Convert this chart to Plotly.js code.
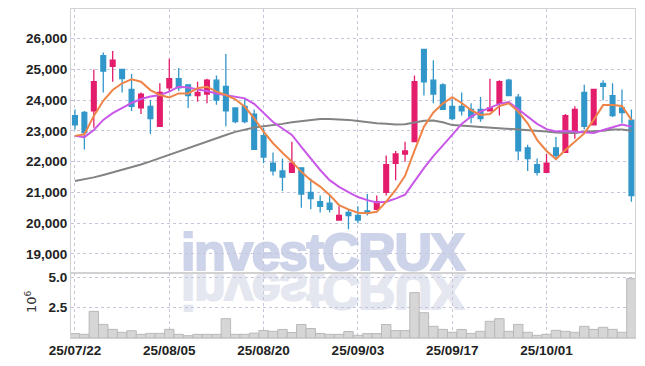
<!DOCTYPE html>
<html><head><meta charset="utf-8">
<script src="https://cdn.plot.ly/plotly-3.0.1.min.js"></script>
<style>
html,body{margin:0;padding:0;background:#fff;}
#wrap{position:relative;width:645px;height:366px;overflow:hidden;}
.wm{position:absolute;left:181px;top:226px;z-index:0;font-family:'Liberation Sans',Arial,sans-serif;font-weight:700;
 font-size:52px;line-height:52px;letter-spacing:-1.5px;white-space:nowrap;}
#wm1{color:#cdd3e8;-webkit-text-stroke:2px #cdd3e8;}
#wm2{color:#e5e7f0;-webkit-text-stroke:2px #e5e7f0;transform:scaleY(-1);transform-origin:0 45.5px;}
#chart{position:absolute;left:0;top:0;width:645px;height:366px;z-index:1;}
</style></head><body>
<div id="wrap">
<div class="wm" id="wm1">investCRUX</div>
<div class="wm" id="wm2">investCRUX</div>
<div id="chart"></div>
</div>
<script>
const dates = ['25/07/22','25/07/23','25/07/24','25/07/25','25/07/28','25/07/29','25/07/30','25/07/31',
 '25/08/01','25/08/04','25/08/05','25/08/06','25/08/07','25/08/08','25/08/11','25/08/12','25/08/13','25/08/14',
 '25/08/18','25/08/19','25/08/20','25/08/21','25/08/22','25/08/25','25/08/26','25/08/27','25/08/28','25/08/29',
 '25/09/01','25/09/02','25/09/03','25/09/04','25/09/05','25/09/08','25/09/09','25/09/10','25/09/11','25/09/12',
 '25/09/15','25/09/16','25/09/17','25/09/18','25/09/19','25/09/22','25/09/23','25/09/24','25/09/25','25/09/26',
 '25/09/29','25/09/30','25/10/01','25/10/02','25/10/10','25/10/13','25/10/14','25/10/15','25/10/16','25/10/17',
 '25/10/20','25/10/21'];
const openP  = [23500,23600,23650,25450,25100,25000,24350,23750,23800,23150,24400,24700,24500,24150,24200,24650,24450,23750,23800,23550,
 22850,21950,21700,21650,21800,21000,20700,20650,20100,20350,20250,20400,20450,21000,21950,22250,22650,25650,24650,24500,
 23800,23800,23700,23700,23650,23900,24650,24100,22450,21900,21650,22450,22300,22950,24250,23200,24550,24150,23750,23350];
const highP  = [23700,23650,25000,25550,25600,25000,24850,24250,24000,24550,25350,25050,24500,24600,24700,24800,25500,23750,24050,23700,
 23100,22300,22100,22650,21800,21450,20900,20900,20550,20450,20550,20950,20900,22200,22350,22650,24800,25650,25300,24550,
 24050,24250,23900,24100,24700,24650,24700,24200,22550,22100,22250,22800,23550,23800,24500,24350,24650,24550,24350,23700];
const lowP   = [23050,22400,23100,24250,24600,24250,23650,23550,22900,23150,24300,24300,23750,23950,23900,23850,23150,23250,23250,22400,
 21950,21550,21050,21650,20500,20450,20350,20350,20100,19800,20000,20250,20450,20900,21400,22000,22650,24150,23900,23700,
 23350,23500,23250,23300,23650,23500,24150,22050,21700,21550,21650,22050,22300,22750,23050,23200,24000,23450,23250,20700];
const closeP = [23200,22950,24600,24950,25300,24700,23800,24200,23400,24250,24700,24400,24150,24250,24650,24000,23650,23300,23300,22400,
 22150,21700,21500,21950,20950,20800,20550,20450,20250,20250,20100,20350,20700,21900,22250,22350,24600,24600,24200,23700,
 23400,23650,23450,23400,23750,24600,24150,22350,22100,21650,21950,22200,23500,23700,23150,24350,24450,23500,23600,20900];
const ma5  = [22840,22890,23490,23980,24330,24550,24680,24600,24330,24170,24090,24220,24220,24390,24440,24280,24170,24030,23790,23410,
 22980,22600,22290,22000,21670,21400,21190,20920,20590,20450,20340,20320,20370,20700,21080,21540,22360,23140,23600,23890,
 24100,23910,23680,23520,23550,23810,23900,23630,23250,22710,22350,22080,22380,22650,22920,23360,23840,23840,23810,23360];
const ma10 = [22840,22800,23030,23360,23580,23750,23910,24040,24120,24170,24280,24440,24410,24350,24300,24220,24170,24110,24060,23880,
 23570,23290,23080,22870,22480,22090,21730,21400,21180,21010,20850,20750,20670,20700,20800,20930,21370,21790,22180,22510,
 22870,23230,23470,23630,23750,23880,23940,23710,23450,23230,23060,22980,23000,22970,22950,22930,23030,23130,23210,23140];
const ma60 = [21370,21420,21490,21570,21650,21730,21830,21910,22010,22120,22220,22330,22450,22560,22670,22770,22870,22970,23050,23110,
 23150,23180,23230,23280,23320,23360,23390,23390,23380,23360,23320,23280,23250,23230,23210,23220,23280,23330,23340,23280,
 23190,23160,23150,23130,23110,23100,23080,23060,23030,23000,22980,22950,22930,22930,22970,22980,23010,23050,23050,23010];
const volume = [0.36,0.30,2.19,1.12,0.71,0.47,0.60,0.30,0.38,0.38,0.71,0.30,0.19,0.30,0.30,0.30,1.59,0.30,0.30,0.40,
 0.62,0.55,0.70,0.45,1.11,0.78,0.37,0.30,0.30,0.53,0.22,0.36,0.36,1.11,0.61,0.61,3.73,2.08,0.96,0.71,
 0.47,0.70,0.38,0.55,1.37,1.59,0.55,1.12,0.47,0.22,0.30,0.63,0.55,0.47,0.96,0.71,0.88,0.71,0.47,4.88].map(v => v * 1e6);
const xTickVals = ['25/07/22','25/08/05','25/08/20','25/09/03','25/09/17','25/10/01'];
const yTickVals = [19000,20000,21000,22000,23000,24000,25000,26000];
const volTickVals = [2500000, 5000000];
const volTickText = ['2.5','5.0'];

const upColor = '#e31c6b', downColor = '#3196c9';
const gridCol = '#c6c6da';
const tickFont = {family:'Liberation Sans, Arial, sans-serif', size:13.5, color:'#222', weight:'bold'};

const traces = [
 {type:'bar', x:dates, y:volume, xaxis:'x', yaxis:'y2',
  marker:{color:'#d6d6d6', line:{color:'#b9b9b9', width:1}}, hoverinfo:'skip'},
 {type:'candlestick', x:dates, open:openP, high:highP, low:lowP, close:closeP, xaxis:'x', yaxis:'y',
  increasing:{line:{color:upColor, width:1.3}, fillcolor:upColor},
  decreasing:{line:{color:downColor, width:1.3}, fillcolor:downColor},
  whiskerwidth:0, hoverinfo:'skip'},
 {type:'scatter', mode:'lines', x:dates, y:ma60, xaxis:'x', yaxis:'y', line:{color:'#838383', width:2}, hoverinfo:'skip'},
 {type:'scatter', mode:'lines', x:dates, y:ma10, xaxis:'x', yaxis:'y', line:{color:'#c958e8', width:2}, hoverinfo:'skip'},
 {type:'scatter', mode:'lines', x:dates, y:ma5, xaxis:'x', yaxis:'y', line:{color:'#ef8448', width:2}, hoverinfo:'skip'}
];

const layout = {
 width:645, height:366,
 margin:{l:71, r:10, t:9, b:28, pad:0},
 paper_bgcolor:'rgba(0,0,0,0)', plot_bgcolor:'rgba(0,0,0,0)',
 showlegend:false, bargap:0, boxgap:0.28,
 font:{family:'Liberation Sans, Arial, sans-serif', size:13, color:'#222'},
 xaxis:{type:'category', range:[-0.42,59.38], anchor:'y2', tickvals:xTickVals, ticktext:xTickVals,
  showgrid:true, gridcolor:gridCol, griddash:'dot', gridwidth:1,
  showline:true, linecolor:'#d2d2d2', linewidth:1, mirror:'all', ticks:'', zeroline:false,
  tickfont:tickFont, rangeslider:{visible:false}, fixedrange:true},
 yaxis:{domain:[0.1985,1], range:[18390,26966], tickvals:yTickVals, tickformat:',d',
  showgrid:true, gridcolor:gridCol, griddash:'dot', gridwidth:1, zeroline:false,
  showline:true, linecolor:'#d2d2d2', linewidth:1, mirror:true, ticks:'', tickfont:tickFont, fixedrange:true},
 yaxis2:{domain:[0,0.1985], range:[0,5370000], tickvals:volTickVals, ticktext:volTickText,
  showgrid:true, gridcolor:gridCol, griddash:'dot', gridwidth:1, zeroline:false,
  showline:true, linecolor:'#d2d2d2', linewidth:1, mirror:true, ticks:'', tickfont:tickFont, fixedrange:true},
 annotations:[{text:'10<sup>6</sup>', xref:'paper', yref:'paper', x:(31-71)/564, y:(338-302)/329,
  xanchor:'center', yanchor:'middle', showarrow:false, textangle:-90,
  font:{family:'DejaVu Sans, sans-serif', size:13, color:'#333'}}]
};
Plotly.newPlot('chart', traces, layout, {displayModeBar:false, staticPlot:true});
</script>
</body></html>
